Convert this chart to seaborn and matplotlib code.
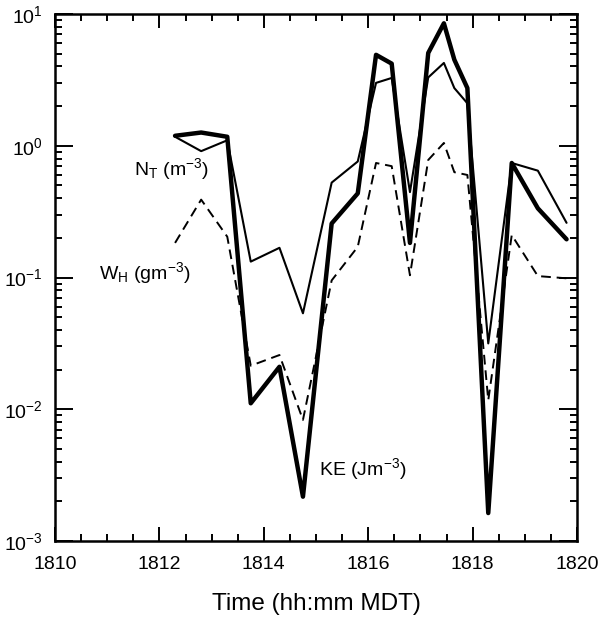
import numpy as np
import pandas as pd
import seaborn as sns
import matplotlib.pyplot as plt
from matplotlib.ticker import MultipleLocator, LogLocator

sns.set_style("ticks")
plt.rcParams['font.family'] = ['Liberation Sans', 'DejaVu Sans']
plt.rcParams['mathtext.default'] = 'regular'
plt.rcParams['axes.unicode_minus'] = False
for key in ['text.color', 'axes.labelcolor', 'xtick.color', 'ytick.color', 'axes.edgecolor']:
    plt.rcParams[key] = 'black'

# time (hh.mm as decimal minutes after 18:00)
times = [1812.3, 1812.8, 1813.3, 1813.75, 1814.3, 1814.75, 1815.3, 1815.8, 1816.15, 1816.45,
         1816.8, 1817.15, 1817.45, 1817.65, 1817.9, 1818.3, 1818.75, 1819.25, 1819.8]
ke = [1.19, 1.26, 1.17, 0.0111, 0.021, 0.00217, 0.257, 0.435, 4.9, 4.2,
      0.183, 5.06, 8.5, 4.5, 2.74, 0.00163, 0.74, 0.335, 0.195]
nt = [1.17, 0.91, 1.1, 0.132, 0.168, 0.0535, 0.525, 0.76, 3.0, 3.27,
      0.445, 3.3, 4.25, 2.74, 2.1, 0.0316, 0.74, 0.647, 0.26]
wh = [0.183, 0.39, 0.204, 0.0214, 0.0258, 0.0083, 0.095, 0.171, 0.74, 0.70,
      0.104, 0.78, 1.05, 0.63, 0.60, 0.0117, 0.21, 0.1025, 0.0986]

df = pd.DataFrame({'Time': times, 'KE': ke, 'NT': nt, 'WH': wh})

fig = plt.figure(figsize=(5.99, 6.19), dpi=100)
ax = fig.add_axes([55/599, 1 - 541/619, (577 - 55)/599, (541 - 14)/619])

sns.lineplot(data=df, x='Time', y='NT', ax=ax, color='black', lw=1.5)
sns.lineplot(data=df, x='Time', y='KE', ax=ax, color='black', lw=3.2)
sns.lineplot(data=df, x='Time', y='WH', ax=ax, color='black', lw=1.4,
             linestyle=(0, (5, 3)))

ax.set_yscale('log')
ax.set_ylim(1e-3, 1e1)
ax.set_xlim(1810, 1820)
ax.xaxis.set_major_locator(MultipleLocator(2))
ax.xaxis.set_minor_locator(MultipleLocator(0.5))
ax.yaxis.set_major_locator(LogLocator(base=10))
ax.yaxis.set_minor_locator(LogLocator(base=10, subs=np.arange(2, 10)))
ax.tick_params(which='both', direction='in', top=True, right=True, width=1.4, labelsize=14)
ax.tick_params(axis='y', which='major', length=13)
ax.tick_params(axis='x', which='major', length=10)
ax.tick_params(which='minor', length=5)
ax.tick_params(axis='x', pad=11)
ax.tick_params(axis='y', pad=9)
for s in ax.spines.values():
    s.set_linewidth(1.8)

ax.set_xlabel('Time (hh:mm MDT)', fontsize=17.5, labelpad=14)
ax.set_ylabel('')

ax.text(1812.95, 0.66, 'N$_T$ (m$^{-3}$)', fontsize=14, ha='right', va='center')
ax.text(1812.6, 0.108, 'W$_H$ (gm$^{-3}$)', fontsize=14, ha='right', va='center')
ax.text(1815.05, 0.0035, 'KE (Jm$^{-3}$)', fontsize=14, ha='left', va='center')

fig.savefig('out.png', dpi=100)
